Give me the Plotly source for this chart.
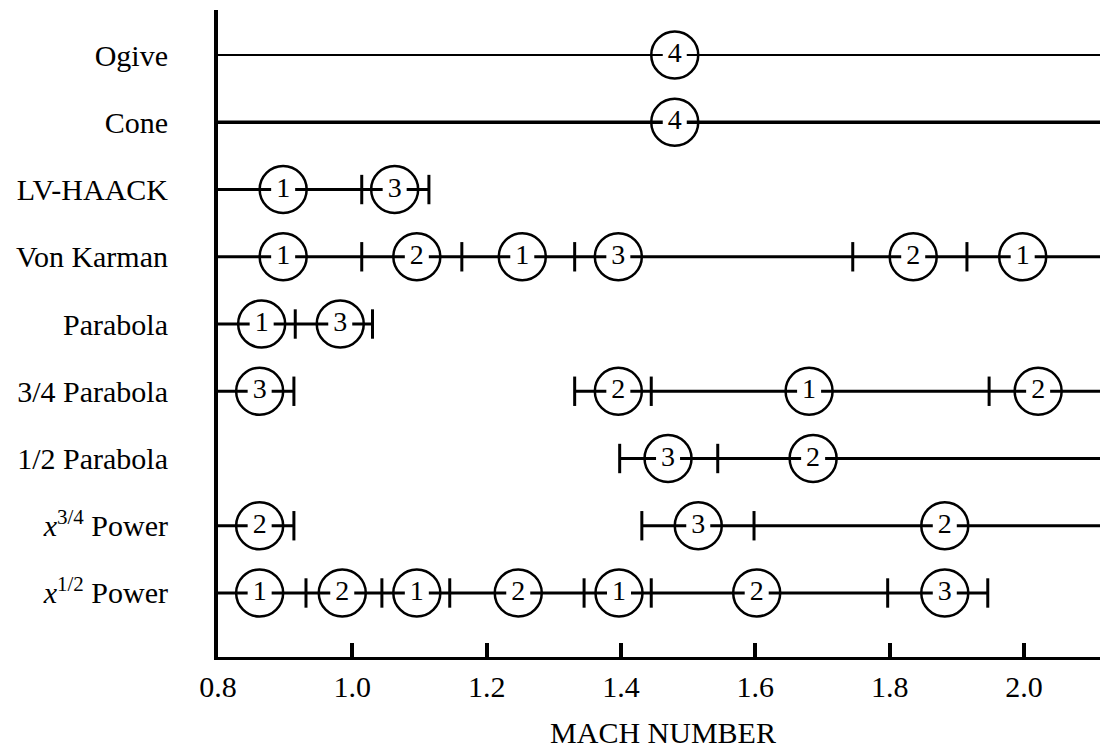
import plotly.graph_objects as go

# ---- data ----
row_labels = ["Ogive", "Cone", "LV-HAACK", "Von Karman", "Parabola",
              "3/4 Parabola", "1/2 Parabola",
              "<i>x</i><sup>3/4</sup> Power", "<i>x</i><sup>1/2</sup> Power"]
row_y = [9, 8, 7, 6, 5, 4, 3, 2, 1]

MACH_MIN = 0.8
MACH_END = 2.3   # open-ended ranges continue past the plotted range

segments = [
    [(0.8, MACH_END)],
    [(0.8, MACH_END)],
    [(0.8, 1.114)],
    [(0.8, MACH_END)],
    [(0.8, 1.030)],
    [(0.8, 0.913), (1.331, MACH_END)],
    [(1.398, MACH_END)],
    [(0.8, 0.913), (1.431, MACH_END)],
    [(0.8, 1.946)],
]

tick_marks = [
    [],
    [],
    [1.014, 1.114],
    [1.014, 1.163, 1.331, 1.745, 1.915],
    [0.915, 1.030],
    [0.913, 1.331, 1.445, 1.948],
    [1.398, 1.544],
    [0.913, 1.431, 1.598],
    [0.931, 1.044, 1.145, 1.345, 1.445, 1.797, 1.946],
]

circle_pos = [
    [1.480],
    [1.480],
    [0.897, 1.063],
    [0.897, 1.096, 1.253, 1.396, 1.835, 1.998],
    [0.865, 0.982],
    [0.862, 1.396, 1.680, 2.021],
    [1.470, 1.686],
    [0.862, 1.515, 1.882],
    [0.862, 0.985, 1.096, 1.247, 1.397, 1.602, 1.882],
]
circle_rank = [
    ["4"],
    ["4"],
    ["1", "3"],
    ["1", "2", "1", "3", "2", "1"],
    ["1", "3"],
    ["3", "2", "1", "2"],
    ["3", "2"],
    ["2", "3", "2"],
    ["1", "2", "1", "2", "1", "2", "3"],
]
line_widths = [2, 3.5, 3, 3, 3, 3, 3, 3, 3]

x_ticks = [0.8, 1.0, 1.2, 1.4, 1.6, 1.8, 2.0]
x_tick_text = ["0.8", "1.0", "1.2", "1.4", "1.6", "1.8", "2.0"]

FONT = "Liberation Serif, Times New Roman, serif"
FS = 30

fig = go.Figure()

# row lines
for y, segs, w in zip(row_y, segments, line_widths):
    xs, ys = [], []
    for a, b in segs:
        xs += [a, b, None]
        ys += [y, y, None]
    fig.add_trace(go.Scatter(x=xs, y=ys, mode="lines",
                             line=dict(color="black", width=w),
                             hoverinfo="skip", showlegend=False))

# range tick marks on rows
tx, ty = [], []
for y, ticks in zip(row_y, tick_marks):
    tx += ticks
    ty += [y] * len(ticks)
fig.add_trace(go.Scatter(x=tx, y=ty, mode="markers",
                         marker=dict(symbol="line-ns", size=21,
                                     line=dict(color="black", width=3)),
                         hoverinfo="skip", showlegend=False))

# circles with ranking numbers
cx, cy, ct = [], [], []
for y, pos, rk in zip(row_y, circle_pos, circle_rank):
    cx += pos
    cy += [y] * len(pos)
    ct += rk
fig.add_trace(go.Scatter(x=cx, y=cy, mode="markers",
                         marker=dict(symbol="square", size=24, color="white",
                                     line=dict(width=0)),
                         hoverinfo="skip", showlegend=False))
fig.add_trace(go.Scatter(x=cx, y=cy, mode="markers+text", text=ct,
                         textposition="middle center",
                         textfont=dict(family=FONT, size=28, color="black"),
                         marker=dict(symbol="circle-open", size=47, color="black",
                                     line=dict(color="black", width=2.5)),
                         hoverinfo="skip", showlegend=False))

fig.update_layout(
    width=1100, height=741,
    margin=dict(l=210, r=0, t=2, b=92),
    paper_bgcolor="white", plot_bgcolor="white",
    font=dict(family=FONT, size=FS, color="black"),
    showlegend=False,
    xaxis=dict(range=[MACH_MIN, 2.125], tickvals=x_ticks, ticktext=x_tick_text,
               ticks="inside", ticklen=14, tickwidth=4, tickcolor="black",
               showline=True, linewidth=3, linecolor="black",
               showgrid=False, zeroline=False, ticklabelstandoff=1,
               tickfont=dict(family=FONT, size=FS, color="black"),
               title=dict(text="MACH NUMBER", standoff=22,
                          font=dict(family=FONT, size=FS, color="black"))),
    yaxis=dict(range=[0.048, 9.67], tickvals=row_y, ticktext=row_labels,
               ticks="", showline=True, linewidth=4, linecolor="black",
               showgrid=False, zeroline=False, ticklabelstandoff=40,
               tickfont=dict(family=FONT, size=FS, color="black")),
)

fig.write_html("out.html")
